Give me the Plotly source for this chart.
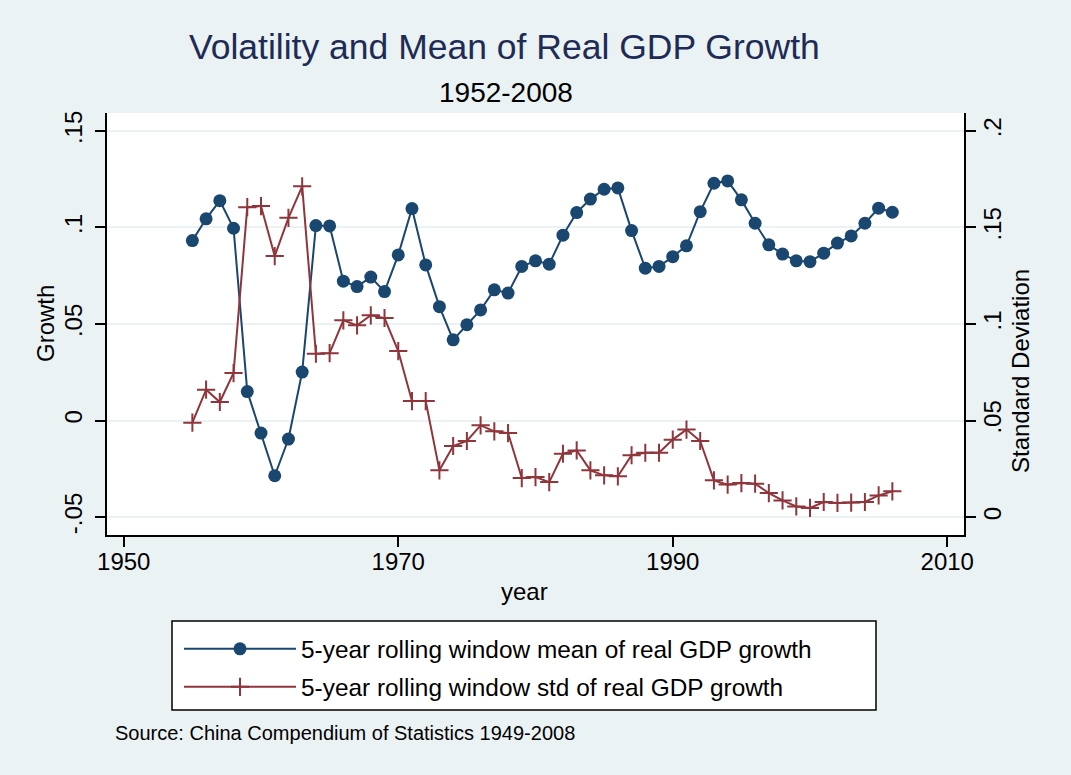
import plotly.graph_objects as go

years = list(range(1955, 2007))

mean_growth = [
    0.0932, 0.1045, 0.1139, 0.0996, 0.0150, -0.0065, -0.0286, -0.0096, 0.0251, 0.1010,
    0.1008, 0.0722, 0.0694, 0.0743, 0.0668, 0.0858, 0.1098, 0.0806, 0.0590, 0.0418,
    0.0496, 0.0573, 0.0677, 0.0660, 0.0798, 0.0827, 0.0810, 0.0960, 0.1077, 0.1147,
    0.1198, 0.1205, 0.0984, 0.0789, 0.0798, 0.0849, 0.0905, 0.1082, 0.1229, 0.1241,
    0.1143, 0.1022, 0.0910, 0.0862, 0.0827, 0.0823, 0.0867, 0.0919, 0.0956, 0.1022,
    0.1100, 0.1079,
]

std_growth = [
    0.0489, 0.0660, 0.0596, 0.0746, 0.1605, 0.1611, 0.1352, 0.1550, 0.1713, 0.0846,
    0.0849, 0.1019, 0.0993, 0.1045, 0.1031, 0.0860, 0.0601, 0.0601, 0.0242, 0.0368,
    0.0394, 0.0475, 0.0444, 0.0435, 0.0202, 0.0207, 0.0181, 0.0328, 0.0345, 0.0242,
    0.0216, 0.0211, 0.0320, 0.0333, 0.0333, 0.0401, 0.0453, 0.0394, 0.0190, 0.0168,
    0.0176, 0.0173, 0.0124, 0.0086, 0.0055, 0.0047, 0.0078, 0.0073, 0.0075, 0.0078,
    0.0112, 0.0133,
]

x_ticks = [1950, 1970, 1990, 2010]
y1_ticks = [-0.05, 0, 0.05, 0.1, 0.15]
y1_labels = ["-.05", "0", ".05", ".1", ".15"]
y2_ticks = [0, 0.05, 0.1, 0.15, 0.2]
y2_labels = ["0", ".05", ".1", ".15", ".2"]

BLUE = "#1A476F"
RED = "#90353B"
BG = "#EAF2F3"
FONT = "Liberation Sans, Arial, sans-serif"

fig = go.Figure()
fig.add_trace(go.Scatter(
    x=years, y=mean_growth, mode="lines+markers",
    name="5-year rolling window mean of real GDP growth",
    line=dict(color=BLUE, width=2),
    marker=dict(symbol="circle", size=13, color=BLUE),
    legend="legend", showlegend=True,
))
fig.add_trace(go.Scatter(
    x=years, y=std_growth, mode="lines+markers", yaxis="y2",
    name="5-year rolling window std of real GDP growth",
    line=dict(color=RED, width=2),
    marker=dict(symbol="cross-thin", size=13, color=RED, line=dict(color=RED, width=2)),
    legend="legend2", showlegend=True,
))

W, H = 1071, 775
L, R, T, B = 107, 107, 113, 240
pw = W - L - R
ph = H - T - B

def px(xp):
    return (xp - L) / pw

def py(yp):
    return (H - B - yp) / ph

legend_common = dict(
    bgcolor="rgba(0,0,0,0)", borderwidth=0,
    font=dict(family=FONT, size=24.4, color="black"),
    xanchor="left", yanchor="middle", itemwidth=112,
)

fig.update_layout(
    width=W, height=H, showlegend=True,
    paper_bgcolor=BG, plot_bgcolor="white",
    margin=dict(l=L, r=R, t=T, b=B),
    font=dict(family=FONT, color="black"),
    xaxis=dict(
        range=[1948.78, 2011.22], tickvals=x_ticks, ticks="outside", ticklen=10,
        tickwidth=1.5, tickcolor="black",
        showline=True, linecolor="black", linewidth=1.5, showgrid=False, zeroline=False,
        tickfont=dict(size=24, family=FONT), ticklabelstandoff=-6,
    ),
    yaxis=dict(
        range=[-0.0593, 0.1593], tickvals=y1_ticks, ticktext=y1_labels, tickangle=-90,
        ticks="outside", ticklen=10, tickwidth=1.5, tickcolor="black",
        showline=True, linecolor="black", linewidth=1.5,
        showgrid=True, gridcolor=BG, gridwidth=1.5, zeroline=False,
        tickfont=dict(size=24, family=FONT), ticklabelstandoff=4,
    ),
    yaxis2=dict(
        range=[-0.0093, 0.2093], tickvals=y2_ticks, ticktext=y2_labels, tickangle=-90,
        overlaying="y", side="right",
        ticks="outside", ticklen=10, tickwidth=1.5, tickcolor="black",
        showline=True, linecolor="black", linewidth=1.5,
        showgrid=False, zeroline=False,
        tickfont=dict(size=24, family=FONT), ticklabelstandoff=-4,
    ),
    legend=dict(x=px(179), y=py(649), **legend_common),
    legend2=dict(x=px(179), y=py(687), **legend_common),
    shapes=[dict(
        type="rect", xref="paper", yref="paper",
        x0=px(172), x1=px(876), y0=py(710), y1=py(621),
        line=dict(color="black", width=1.5), fillcolor="white", layer="below",
    )],
    annotations=[
        dict(text="Volatility and Mean of Real GDP Growth", xref="paper", yref="paper",
             x=px(504), y=py(47), showarrow=False, xanchor="center", yanchor="middle",
             font=dict(size=35.5, color="#1E2B56", family=FONT)),
        dict(text="1952-2008", xref="paper", yref="paper",
             x=px(506), y=py(93), showarrow=False, xanchor="center", yanchor="middle",
             font=dict(size=28, color="black", family=FONT)),
        dict(text="year", xref="paper", yref="paper",
             x=px(524), y=py(591), showarrow=False, xanchor="center", yanchor="middle",
             font=dict(size=24, color="black", family=FONT)),
        dict(text="Growth", xref="paper", yref="paper", textangle=-90,
             x=px(45), y=py(324), showarrow=False, xanchor="center", yanchor="middle",
             font=dict(size=24, color="black", family=FONT)),
        dict(text="Standard Deviation", xref="paper", yref="paper", textangle=-90,
             x=px(1020), y=py(371), showarrow=False, xanchor="center", yanchor="middle",
             font=dict(size=24, color="black", family=FONT)),
        dict(text="Source: China Compendium of Statistics 1949-2008", xref="paper", yref="paper",
             x=px(113), y=py(733), showarrow=False, xanchor="left", yanchor="middle",
             font=dict(size=20, color="black", family=FONT)),
    ],
)

fig.write_html(
    "out.html",
    config={"displayModeBar": False},
    post_script="document.body.style.margin='0';document.body.style.background='#EAF2F3';",
)
